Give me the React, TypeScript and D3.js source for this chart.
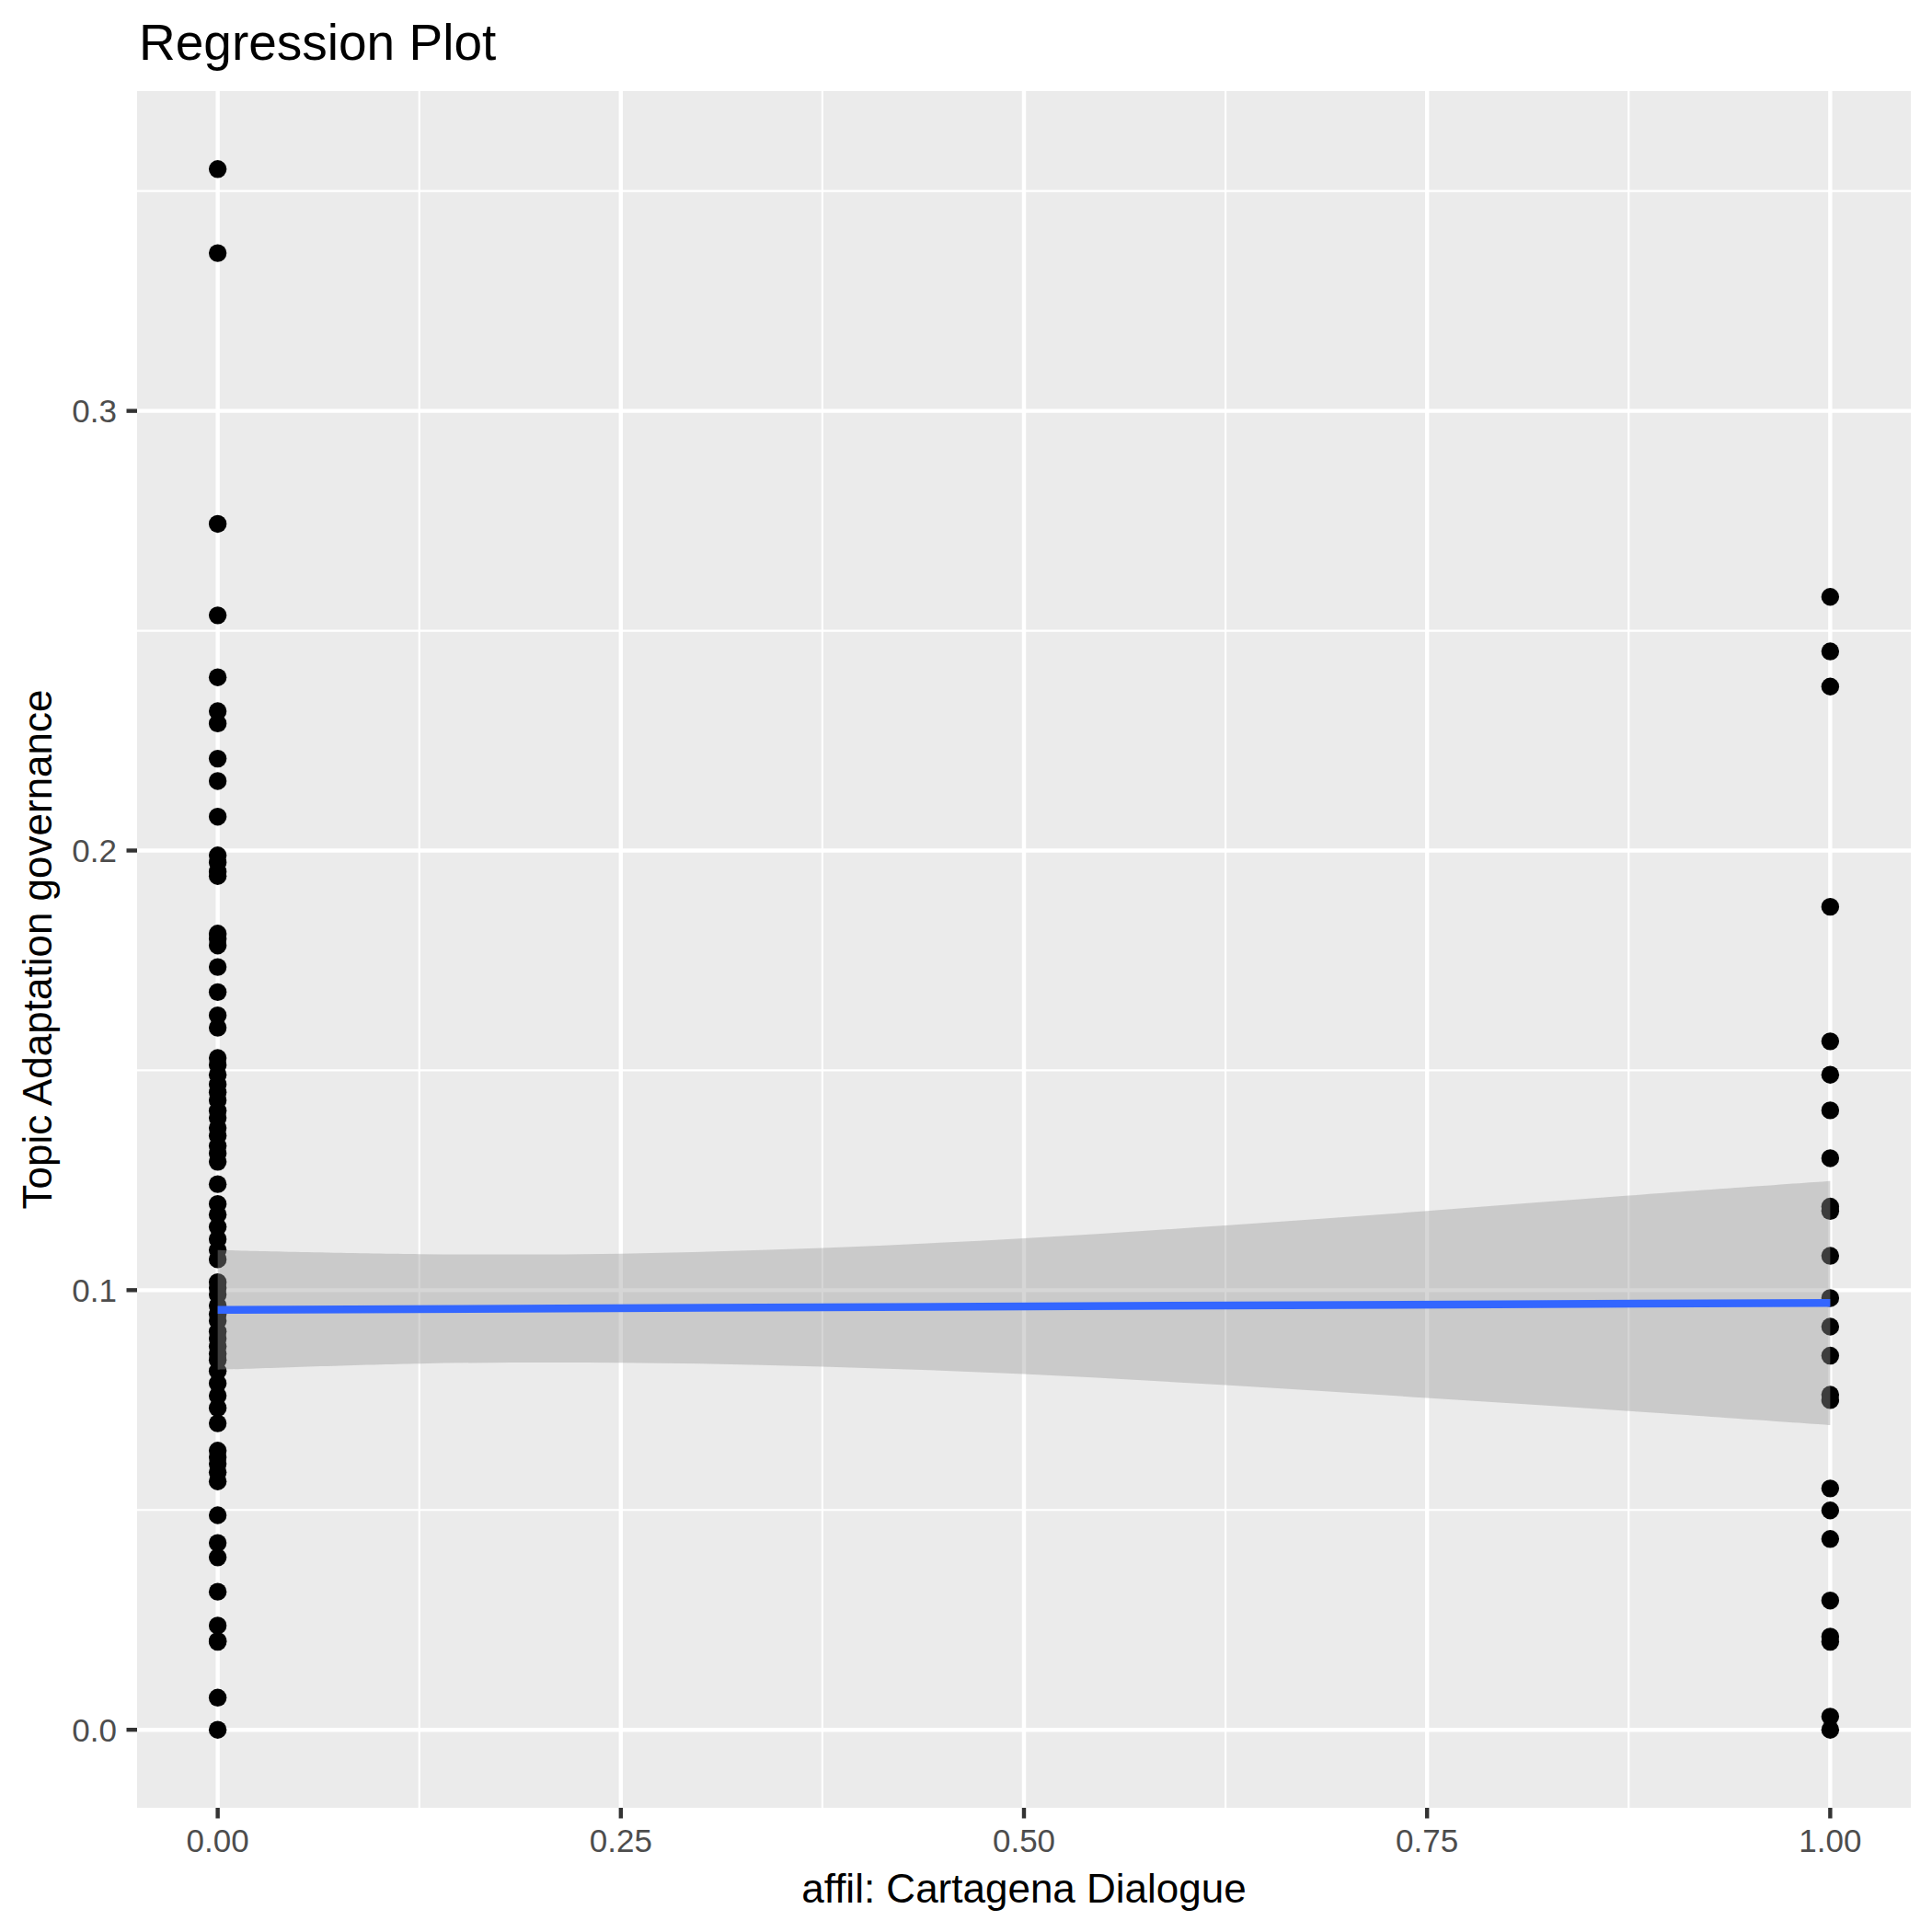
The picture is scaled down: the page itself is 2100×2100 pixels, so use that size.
import { useEffect, useRef } from 'react';
import * as d3 from 'd3';

// affil = 0 group (topic proportions)
const groupZero: number[] = [
  0.355, 0.3359, 0.2743, 0.2535, 0.2394, 0.2317, 0.2289, 0.2209, 0.2158, 0.2077,
  0.1989, 0.1973, 0.1952, 0.1942, 0.1811, 0.1799, 0.1784, 0.1735, 0.1678, 0.1625,
  0.1597, 0.1528, 0.1512, 0.149, 0.1468, 0.145, 0.1432, 0.1408, 0.1392, 0.1369,
  0.1351, 0.1328, 0.1311, 0.1292, 0.1241, 0.1196, 0.1172, 0.1144, 0.1116, 0.1091,
  0.107, 0.1018, 0.1005, 0.099, 0.0965, 0.0945, 0.093, 0.0906, 0.089, 0.0872,
  0.0855, 0.0841, 0.0816, 0.0788, 0.076, 0.0732, 0.0697, 0.0635, 0.062, 0.0605,
  0.0586, 0.0565, 0.0488, 0.0425, 0.0392, 0.0314, 0.0237, 0.0202, 0.02, 0.0073, 0,
];

// affil = 1 group
const groupOne: number[] = [
  0.2577, 0.2453, 0.2373, 0.1872, 0.1566, 0.149, 0.1409, 0.13, 0.119, 0.118,
  0.1078, 0.0982, 0.0917, 0.0851, 0.0762, 0.075, 0.0549, 0.0499, 0.0434, 0.0294,
  0.0212, 0.02, 0.003, 0,
];

// geom_smooth(method = "lm") output
const smoothX = [0, 0.125, 0.25, 0.375, 0.5, 0.625, 0.75, 0.875, 1];
const smoothUpper = [0.1091, 0.1082, 0.1083, 0.1096, 0.1118, 0.1147, 0.118, 0.1215, 0.1248];
const smoothLower = [0.0819, 0.0833, 0.0835, 0.0826, 0.0809, 0.0784, 0.0755, 0.0725, 0.0693];
const fitX = [0, 1];
const fitY = [0.0955, 0.0971];

const xTicks = [0, 0.25, 0.5, 0.75, 1];
const xMinor = [0.125, 0.375, 0.625, 0.875];
const yTicks = [0, 0.1, 0.2, 0.3];
const yMinor = [0.05, 0.15, 0.25, 0.35];

const title = 'Regression Plot';
const xTitle = 'affil: Cartagena Dialogue';
const yTitle = 'Topic Adaptation governance';

const W = 2100;
const H = 2100;
const panel = { left: 149, top: 99, right: 2077, bottom: 1965 };
const font = '"Liberation Sans", Arial, Helvetica, sans-serif';

export default function App() {
  const svgRef = useRef<SVGSVGElement>(null);

  useEffect(() => {
    if (!svgRef.current) return;
    const svg = d3.select(svgRef.current);
    svg.selectAll('*').remove();

    // ggplot-style 5% expansion on both scales
    const all = [...groupZero, ...groupOne];
    const [yMin, yMax] = d3.extent(all) as [number, number];
    const yPad = (yMax - yMin) * 0.05;
    const x = d3.scaleLinear().domain([-0.05, 1.05]).range([panel.left, panel.right]);
    const y = d3
      .scaleLinear()
      .domain([yMin - yPad, yMax + yPad])
      .range([panel.bottom, panel.top]);

    svg.append('rect').attr('width', W).attr('height', H).attr('fill', 'white');

    svg
      .append('rect')
      .attr('x', panel.left)
      .attr('y', panel.top)
      .attr('width', panel.right - panel.left)
      .attr('height', panel.bottom - panel.top)
      .attr('fill', '#EBEBEB');

    const grid = svg.append('g').attr('stroke', 'white');
    grid
      .selectAll('line.xminor')
      .data(xMinor)
      .enter()
      .append('line')
      .attr('x1', (d) => x(d))
      .attr('x2', (d) => x(d))
      .attr('y1', panel.top)
      .attr('y2', panel.bottom)
      .attr('stroke-width', 2.2);
    grid
      .selectAll('line.yminor')
      .data(yMinor)
      .enter()
      .append('line')
      .attr('y1', (d) => y(d))
      .attr('y2', (d) => y(d))
      .attr('x1', panel.left)
      .attr('x2', panel.right)
      .attr('stroke-width', 2.2);
    grid
      .selectAll('line.xmajor')
      .data(xTicks)
      .enter()
      .append('line')
      .attr('x1', (d) => x(d))
      .attr('x2', (d) => x(d))
      .attr('y1', panel.top)
      .attr('y2', panel.bottom)
      .attr('stroke-width', 4.4);
    grid
      .selectAll('line.ymajor')
      .data(yTicks)
      .enter()
      .append('line')
      .attr('y1', (d) => y(d))
      .attr('y2', (d) => y(d))
      .attr('x1', panel.left)
      .attr('x2', panel.right)
      .attr('stroke-width', 4.4);

    // points
    const pts = [
      ...groupZero.map((v) => ({ affil: 0, value: v })),
      ...groupOne.map((v) => ({ affil: 1, value: v })),
    ];
    svg
      .append('g')
      .selectAll('circle')
      .data(pts)
      .enter()
      .append('circle')
      .attr('cx', (d) => x(d.affil))
      .attr('cy', (d) => y(d.value))
      .attr('r', 9.7)
      .attr('fill', 'black');

    // confidence band
    const band = d3
      .area<number>()
      .x((d) => x(d))
      .y0((_, i) => y(smoothLower[i]))
      .y1((_, i) => y(smoothUpper[i]))
      .curve(d3.curveCatmullRom);
    svg
      .append('path')
      .attr('d', band(smoothX))
      .attr('fill', '#999999')
      .attr('fill-opacity', 0.4);

    const line = d3
      .line<number>()
      .x((d) => x(d))
      .y((_, i) => y(fitY[i]));
    svg
      .append('path')
      .attr('d', line(fitX))
      .attr('fill', 'none')
      .attr('stroke', '#3366FF')
      .attr('stroke-width', 8.5);

    // axes
    const axes = svg.append('g').attr('font-family', font);
    axes
      .selectAll('line.xtick')
      .data(xTicks)
      .enter()
      .append('line')
      .attr('x1', (d) => x(d))
      .attr('x2', (d) => x(d))
      .attr('y1', panel.bottom)
      .attr('y2', panel.bottom + 11.5)
      .attr('stroke', '#333333')
      .attr('stroke-width', 4.4);
    axes
      .selectAll('text.xlab')
      .data(xTicks)
      .enter()
      .append('text')
      .attr('x', (d) => x(d))
      .attr('y', 2013)
      .attr('text-anchor', 'middle')
      .attr('font-size', 35)
      .attr('fill', '#4D4D4D')
      .text((d) => d3.format('.2f')(d));

    axes
      .selectAll('line.ytick')
      .data(yTicks)
      .enter()
      .append('line')
      .attr('y1', (d) => y(d))
      .attr('y2', (d) => y(d))
      .attr('x1', panel.left - 11.5)
      .attr('x2', panel.left)
      .attr('stroke', '#333333')
      .attr('stroke-width', 4.4);
    axes
      .selectAll('text.ylab')
      .data(yTicks)
      .enter()
      .append('text')
      .attr('x', 127)
      .attr('y', (d) => y(d))
      .attr('dy', '0.36em')
      .attr('text-anchor', 'end')
      .attr('font-size', 35)
      .attr('fill', '#4D4D4D')
      .text((d) => d3.format('.1f')(d));

    axes
      .append('text')
      .attr('x', (panel.left + panel.right) / 2)
      .attr('y', 2068)
      .attr('text-anchor', 'middle')
      .attr('font-size', 44)
      .attr('fill', 'black')
      .text(xTitle);

    axes
      .append('text')
      .attr('transform', `translate(56, ${(panel.top + panel.bottom) / 2}) rotate(-90)`)
      .attr('text-anchor', 'middle')
      .attr('font-size', 44)
      .attr('fill', 'black')
      .text(yTitle);

    axes
      .append('text')
      .attr('x', 151)
      .attr('y', 65)
      .attr('font-size', 55)
      .attr('fill', 'black')
      .text(title);
  }, []);

  return (
    <svg
      ref={svgRef}
      width={W}
      height={H}
      style={{ position: 'absolute', left: 0, top: 0, display: 'block' }}
    ></svg>
  );
}
